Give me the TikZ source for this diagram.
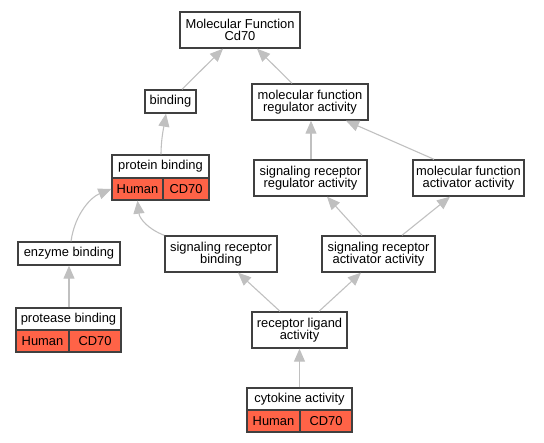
\documentclass[tikz,border=0pt]{standalone}
\usepackage{fontspec}
\setmainfont{Liberation Sans}
\usetikzlibrary{arrows.meta}
\definecolor{cellred}{HTML}{FF6347}
\definecolor{edgegray}{HTML}{C0C0C0}
\definecolor{boxgray}{HTML}{404040}

\begin{document}
\begin{tikzpicture}[x=1pt,y=-1pt,
        term/.style={draw=boxgray,line width=1.4pt,fill=white,inner sep=0pt,align=center,
                     font=\fontsize{12.9}{12.6}\selectfont},
        cell/.style={term,fill=cellred},
        isa/.style={draw=edgegray,line width=1.1pt,-{Triangle[length=13pt,width=11pt]}}]
        \useasboundingbox (0,0) rectangle (544,443);

        % terms
        \node[term,minimum width=120pt,minimum height=36pt] (mf)    at (240,30)    {Molecular Function\\Cd70};
        \node[term,minimum width=51pt,minimum height=23pt]  (bind)  at (170.5,101.5) {binding};
        \node[term,minimum width=116pt,minimum height=36pt] (mfreg) at (310,102)   {molecular function\\regulator activity};
        \node[term,minimum width=113pt,minimum height=36pt] (srreg) at (310.5,178) {signaling receptor\\regulator activity};
        \node[term,minimum width=111pt,minimum height=36pt] (mfact) at (468.5,178) {molecular function\\activator activity};
        \node[term,minimum width=102pt,minimum height=23pt] (enz)   at (69,253.5)  {enzyme binding};
        \node[term,minimum width=112pt,minimum height=36pt] (srb)   at (221,254)   {signaling receptor\\binding};
        \node[term,minimum width=113pt,minimum height=36pt] (sract) at (378.5,254) {signaling receptor\\activator activity};
        \node[term,minimum width=95pt,minimum height=36pt]  (rlig)  at (299.5,330) {receptor ligand\\activity};

        % annotated terms
        \node[term,minimum width=97pt,minimum height=23pt]  (prot)   at (160.5,166.5) {protein binding};
        \node[cell,minimum width=51pt,minimum height=22pt]  (protH)  at (137.5,189)   {Human};
        \node[cell,minimum width=46pt,minimum height=22pt]  (protC)  at (186,189)     {CD70};

        \node[term,minimum width=105pt,minimum height=22pt] (prtase)  at (68.5,319) {protease binding};
        \node[cell,minimum width=53pt,minimum height=22pt]  (prtaseH) at (42.5,341) {Human};
        \node[cell,minimum width=52pt,minimum height=22pt]  (prtaseC) at (95,341)   {CD70};

        \node[term,minimum width=105pt,minimum height=22pt] (cyto)  at (299.5,399) {cytokine activity};
        \node[cell,minimum width=53pt,minimum height=22pt]  (cytoH) at (273.5,421) {Human};
        \node[cell,minimum width=52pt,minimum height=22pt]  (cytoC) at (326,421)   {CD70};

        % is-a edges
        \draw[isa] ([xshift=11.5pt]bind.north) -- ([xshift=-17pt]mf.south);
        \draw[isa] ([xshift=-18pt]mfreg.north) -- ([xshift=17pt]mf.south);
        \draw[isa] ([xshift=0.5pt]prot.north) .. controls +(0,-15) and +(-2,12) .. ([xshift=-4.5pt]bind.south);
        \draw[isa] ([xshift=0.5pt]srreg.north) -- ([xshift=1pt]mfreg.south);
        \draw[isa] ([xshift=-34.5pt]mfact.north) -- ([xshift=36pt]mfreg.south);
        \draw[isa] ([xshift=2pt]enz.north) .. controls +(4,-28) and +(-20,8) .. (protH.west);
        \draw[isa] (srb.north west) .. controls +(-16,-6) and +(2,18) .. (protH.south);
        \draw[isa] ([xshift=-16.5pt]sract.north) -- ([xshift=16.5pt]srreg.south);
        \draw[isa] ([xshift=23.5pt]sract.north) -- ([xshift=-18.5pt]mfact.south);
        \draw[isa] ([xshift=0.5pt]prtase.north) -- (enz.south);
        \draw[isa] ([xshift=-19.5pt]rlig.north) -- ([xshift=17pt]srb.south);
        \draw[isa] ([xshift=19.5pt]rlig.north) -- ([xshift=-17.5pt]sract.south);
        \draw[isa] (cyto.north) -- (rlig.south);
\end{tikzpicture}
\end{document}
